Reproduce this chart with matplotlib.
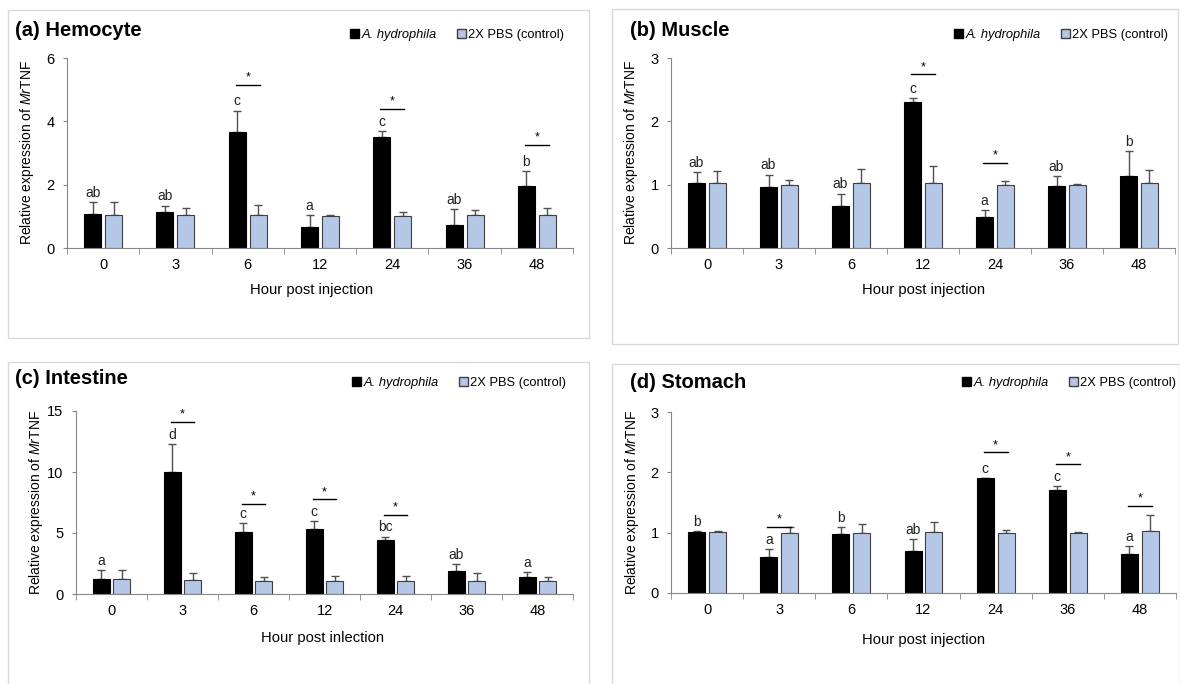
import numpy as np
import matplotlib
matplotlib.use("Agg")
import matplotlib.pyplot as plt
from matplotlib.patches import Patch, Rectangle

plt.rcParams["font.family"] = ["Liberation Sans", "DejaVu Sans"]
plt.rcParams["mathtext.fontset"] = "custom"
plt.rcParams["mathtext.it"] = "Liberation Sans:italic"
plt.rcParams["mathtext.rm"] = "Liberation Sans"

hours = ["0", "3", "6", "12", "24", "36", "48"]

# (a) Hemocyte
hemo_inf = [1.07, 1.14, 3.66, 0.65, 3.50, 0.74, 1.95]
hemo_inf_sd = [0.39, 0.20, 0.68, 0.40, 0.18, 0.50, 0.49]
hemo_pbs = [1.05, 1.03, 1.05, 1.02, 1.02, 1.03, 1.03]
hemo_pbs_sd = [0.41, 0.22, 0.31, 0.03, 0.12, 0.17, 0.23]
hemo_letters = ["ab", "ab", "c", "a", "c", "ab", "b"]
hemo_sig = [None, None, 5.16, None, 4.39, None, 3.26]

# (b) Muscle
musc_inf = [1.02, 0.97, 0.66, 2.30, 0.49, 0.98, 1.14]
musc_inf_sd = [0.18, 0.19, 0.20, 0.07, 0.11, 0.15, 0.39]
musc_pbs = [1.02, 1.00, 1.02, 1.02, 1.00, 1.00, 1.02]
musc_pbs_sd = [0.19, 0.07, 0.23, 0.27, 0.06, 0.01, 0.21]
musc_letters = ["ab", "ab", "ab", "c", "a", "ab", "b"]
musc_sig = [None, None, None, 2.74, 1.34, None, None]

# (c) Intestine
int_inf = [1.20, 9.96, 5.12, 5.31, 4.44, 1.91, 1.36]
int_inf_sd = [0.73, 2.32, 0.73, 0.68, 0.27, 0.57, 0.41]
int_pbs = [1.22, 1.12, 1.03, 1.03, 1.03, 1.09, 1.03]
int_pbs_sd = [0.71, 0.60, 0.36, 0.41, 0.41, 0.63, 0.39]
int_letters = ["a", "d", "c", "c", "bc", "ab", "a"]
int_sig = [None, 14.1, 7.38, 7.76, 6.48, None, None]

# (d) Stomach
stom_inf = [1.01, 0.60, 0.98, 0.69, 1.90, 1.70, 0.65]
stom_inf_sd = [0.01, 0.13, 0.11, 0.21, 0.01, 0.08, 0.13]
stom_pbs = [1.01, 1.00, 1.00, 1.01, 1.00, 1.00, 1.03]
stom_pbs_sd = [0.01, 0.09, 0.15, 0.16, 0.05, 0.01, 0.26]
stom_letters = ["b", "a", "b", "ab", "c", "c", "a"]
stom_sig = [None, 1.10, None, None, 2.33, 2.13, 1.44]

W, H = 1180, 684
BLUE = "#b4c7e7"
EDGE = "#404040"
AXC = "#868686"

fig = plt.figure(figsize=(W / 100, H / 100), dpi=100)


def fx(px):
    return px / W


def fy(py):
    return 1 - py / H


def panel(box, axpos, ymax, ystep, title, tpos, xlab, xlpos, ylx, legpos,
          inf, inf_sd, pbs, pbs_sd, letters, sig):
    # light grey frame round the panel
    x0, y0, x1, y1 = box
    fig.patches.append(Rectangle((fx(x0), fy(y1)), fx(x1 - x0), (y1 - y0) / H,
                                 transform=fig.transFigure, fill=False,
                                 edgecolor="#d9d9d9", lw=1))
    l, t, r, b = axpos
    ax = fig.add_axes([fx(l), fy(b), fx(r - l), (b - t) / H])
    idx = np.arange(len(hours))
    off, bw = 0.145, 0.235
    ax.bar(idx - off, inf, bw, color="black", edgecolor="black", lw=0.8, zorder=2)
    ax.bar(idx + off, pbs, bw, color=BLUE, edgecolor=EDGE, lw=0.8, zorder=2)
    ax.errorbar(idx - off, inf, yerr=[np.zeros(7), inf_sd], fmt="none",
                ecolor="#505050", elinewidth=1, capsize=3, capthick=1, zorder=1)
    ax.errorbar(idx + off, pbs, yerr=[np.zeros(7), pbs_sd], fmt="none",
                ecolor="#505050", elinewidth=1, capsize=3, capthick=1, zorder=1)
    for i in idx:
        ax.annotate(letters[i], (i - off, inf[i] + inf_sd[i]), xytext=(0, 1.5),
                    textcoords="offset points", ha="center", va="bottom",
                    fontsize=10, color="#222222")
        if sig[i] is not None:
            ax.plot([i - off - 0.02, i + off + 0.02], [sig[i], sig[i]],
                    color="black", lw=1, clip_on=False)
            ax.annotate("*", (i, sig[i]), xytext=(0, 1), textcoords="offset points",
                        ha="center", va="bottom", fontsize=9)
    ax.set_xlim(-0.5, 6.5)
    ax.set_ylim(0, ymax)
    ax.set_yticks(np.arange(0, ymax + 0.01, ystep))
    ax.set_xticks(idx)
    ax.set_xticklabels(hours)
    ax.set_xticks(np.arange(-0.5, 7, 1), minor=True)
    ax.tick_params(axis="x", which="major", length=0, pad=7, labelsize=10.5)
    ax.tick_params(axis="x", which="minor", length=4, color=AXC, direction="out")
    ax.tick_params(axis="y", length=3, color=AXC, pad=6, labelsize=10.5)
    for s in ["top", "right"]:
        ax.spines[s].set_visible(False)
    for s in ["left", "bottom"]:
        ax.spines[s].set_color(AXC)
    fig.text(fx(tpos[0]), fy(tpos[1]), title, fontsize=14.5, fontweight="bold",
             va="center", ha="left")
    fig.text(fx(xlpos[0]), fy(xlpos[1]), xlab, fontsize=10.6, ha="center", va="center")
    fig.text(fx(ylx), fy((t + b) / 2), r"Relative expression of $\mathit{Mr}$TNF",
             fontsize=10, rotation=90, ha="center", va="center")
    handles = [Patch(facecolor="black", edgecolor="black"),
               Patch(facecolor=BLUE, edgecolor=EDGE)]
    leg = fig.legend(handles, ["A. hydrophila", "2X PBS (control)"], ncol=2,
                     loc="center right", bbox_to_anchor=(fx(legpos[0]), fy(legpos[1])),
                     frameon=False, fontsize=9.3, handlelength=0.7, handleheight=0.7,
                     handletextpad=0.15, columnspacing=1.6, borderpad=0, borderaxespad=0)
    leg.get_texts()[0].set_fontstyle("italic")
    return ax


panel((8, 10, 589, 338), (67, 58, 573, 248), 6, 2, "(a) Hemocyte", (15, 31),
      "Hour post injection", (312, 290), 27, (564, 35),
      hemo_inf, hemo_inf_sd, hemo_pbs, hemo_pbs_sd, hemo_letters, hemo_sig)
panel((612, 9, 1178, 344), (671, 58, 1175, 248), 3, 1, "(b) Muscle", (630, 31),
      "Hour post injection", (924, 290), 631, (1168, 35),
      musc_inf, musc_inf_sd, musc_pbs, musc_pbs_sd, musc_letters, musc_sig)
panel((8, 362, 589, 690), (76, 411, 573, 594), 15, 5, "(c) Intestine", (15, 379),
      "Hour post inlection", (323, 638), 36, (566, 383),
      int_inf, int_inf_sd, int_pbs, int_pbs_sd, int_letters, int_sig)
panel((612, 364, 1180, 690), (671, 412, 1176, 593), 3, 1, "(d) Stomach", (630, 383),
      "Hour post injection", (924, 640), 632, (1176, 383),
      stom_inf, stom_inf_sd, stom_pbs, stom_pbs_sd, stom_letters, stom_sig)

fig.savefig("out.png", dpi=100)
